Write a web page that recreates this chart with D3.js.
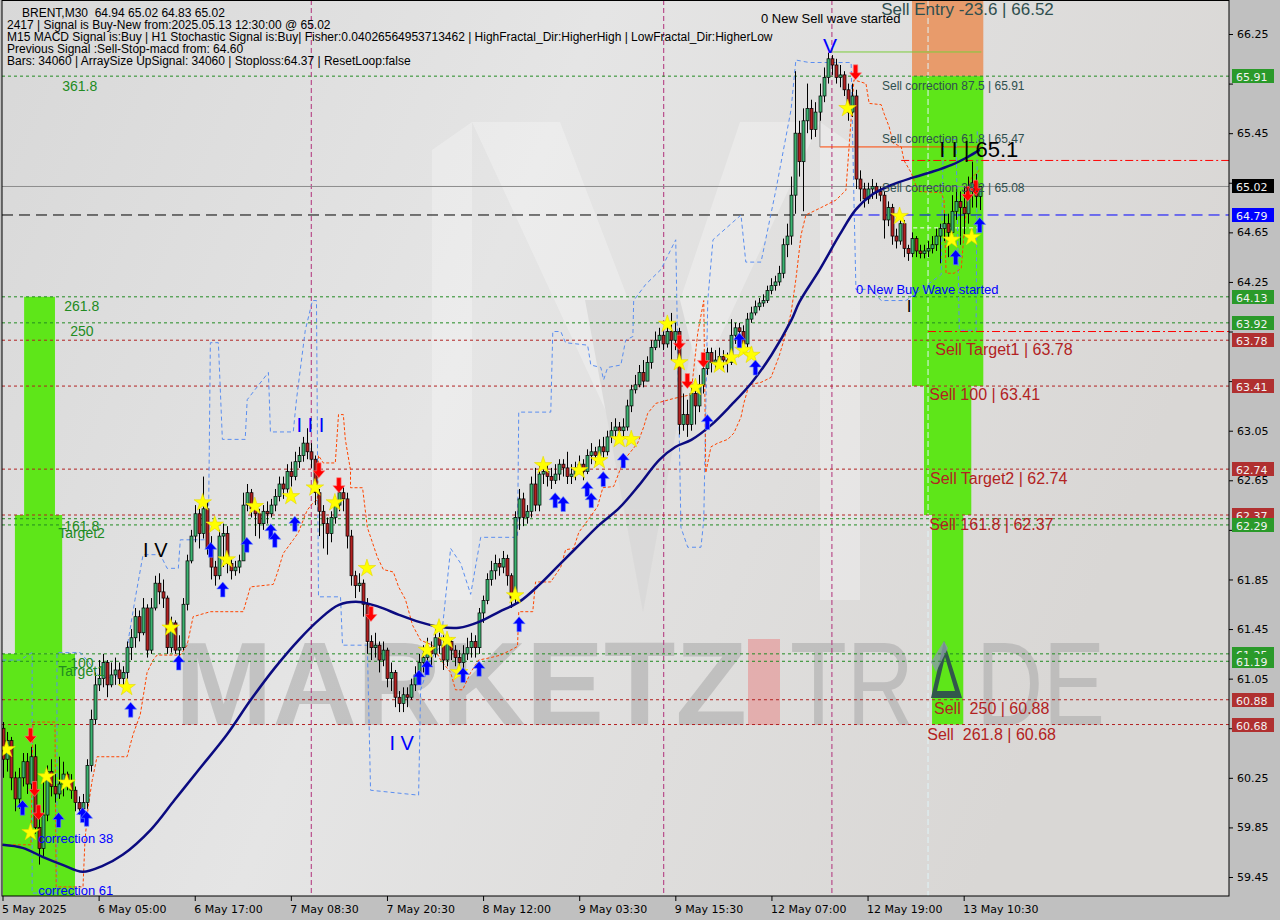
<!DOCTYPE html>
<html><head><meta charset="utf-8">
<script src="https://cdn.jsdelivr.net/npm/d3@7/dist/d3.min.js"></script>
<style>html,body{margin:0;padding:0;background:#c0c0c0;}svg{display:block;}</style>
</head><body><svg id="chart" width="1280" height="920"></svg>
<script>
// ---------------- DATA ----------------
const firstOpen = 60.65;
const closes = [
60.40,60.55,60.25,60.08,60.25,60.38,60.20,60.42,59.85,59.68,
59.95,60.30,60.18,60.12,60.20,60.28,60.22,60.15,60.05,60.00,
60.05,60.35,60.72,61.00,61.05,61.18,61.00,61.08,61.12,61.05,
61.10,61.30,61.38,61.55,61.42,61.62,61.28,61.62,61.82,61.75,
61.70,61.30,61.50,61.28,61.30,61.65,62.00,62.20,62.38,62.22,
62.42,62.10,61.95,61.88,62.20,62.22,61.98,61.92,61.95,62.00,
62.45,62.55,62.42,62.38,62.30,62.40,62.38,62.45,62.52,62.62,
62.58,62.72,62.68,62.80,62.85,62.95,62.88,62.82,62.55,62.40,
62.30,62.22,62.35,62.45,62.55,62.50,62.20,61.88,61.80,61.82,
61.65,61.35,61.30,61.32,61.20,61.28,61.05,61.10,60.90,60.85,
60.92,60.90,61.00,61.08,61.18,61.22,61.30,61.25,61.38,61.32,
61.20,61.35,61.28,61.22,61.18,61.25,61.30,61.35,61.30,61.58,
61.68,61.85,61.92,61.98,61.95,62.02,61.88,61.70,62.35,62.50,
62.35,62.40,62.62,62.45,62.70,62.72,62.68,62.65,62.70,62.78,
62.75,62.68,62.70,62.75,62.78,62.72,62.85,62.88,62.85,62.92,
62.88,63.00,63.05,63.08,63.05,63.08,63.25,63.38,63.42,63.52,
63.45,63.60,63.72,63.78,63.82,63.75,63.85,63.78,63.85,63.10,
63.18,63.10,63.35,63.25,63.42,63.55,63.68,63.60,63.62,63.65,
63.62,63.60,63.82,63.88,63.85,63.75,63.95,64.00,64.05,64.08,
64.10,64.18,64.22,64.25,64.32,64.55,64.62,64.95,65.45,65.22,
65.55,65.65,65.48,65.62,65.75,65.90,66.05,66.00,65.90,65.92,
65.80,65.62,65.75,65.08,65.00,64.92,65.00,65.02,64.98,64.95,
64.75,64.85,64.62,64.58,64.72,64.52,64.48,64.60,64.50,64.48,
64.50,64.52,64.55,64.62,64.68,64.72,64.65,64.82,64.90,64.85,
64.80,64.98,65.05,64.94,65.02];
const highs = [
60.70,60.62,60.58,60.30,60.33,60.45,60.45,60.50,60.52,59.95,
60.25,60.35,60.40,60.28,60.42,60.38,60.30,60.28,60.18,60.10,
60.12,60.40,60.80,61.10,61.20,61.25,61.20,61.18,61.22,61.18,
61.15,61.35,61.45,61.62,61.60,61.70,61.65,61.70,61.88,61.90,
61.85,61.72,61.55,61.52,61.40,61.70,62.05,62.25,62.45,62.42,
62.68,62.48,62.20,62.00,62.25,62.30,62.28,62.02,62.00,62.05,
62.55,62.62,62.58,62.45,62.42,62.45,62.48,62.50,62.58,62.68,
62.68,62.78,62.80,62.88,62.92,63.00,63.07,62.95,62.85,62.58,
62.45,62.35,62.40,62.52,62.60,62.60,62.55,62.25,61.92,61.90,
61.85,61.70,61.40,61.42,61.35,61.35,61.30,61.18,61.12,60.95,
60.98,60.98,61.05,61.15,61.25,61.32,61.38,61.35,61.45,61.42,
61.40,61.40,61.38,61.32,61.28,61.32,61.38,61.42,61.40,61.62,
61.72,61.90,62.00,62.05,62.02,62.08,62.05,61.90,62.40,62.58,
62.55,62.45,62.68,62.75,62.78,62.80,62.78,62.75,62.78,62.82,
62.82,62.88,62.78,62.80,62.85,62.82,62.90,62.95,62.92,62.98,
63.00,63.05,63.12,63.15,63.12,63.15,63.30,63.42,63.50,63.58,
63.62,63.65,63.78,63.85,63.88,63.85,63.92,64.00,63.92,63.88,
63.35,63.30,63.42,63.45,63.50,63.62,63.72,63.72,63.70,63.72,
63.70,63.68,63.95,63.92,63.92,63.90,64.00,64.05,64.10,64.12,
64.15,64.22,64.28,64.30,64.38,64.60,64.72,65.10,65.95,65.55,
65.65,65.85,65.72,65.70,65.85,65.98,66.10,66.08,66.05,66.00,
65.95,65.85,65.85,65.80,65.15,65.05,65.05,65.08,65.05,65.02,
64.98,64.90,64.88,64.68,64.78,64.75,64.55,64.65,64.62,64.55,
64.55,64.58,64.62,64.68,64.72,64.80,64.80,64.95,65.00,64.98,
65.02,65.10,65.22,65.12,65.02];
const lows = [
60.25,60.30,60.15,59.98,60.00,60.18,60.12,60.15,59.80,59.55,
59.62,59.90,60.10,60.05,60.08,60.10,60.15,60.08,59.98,59.95,
59.98,60.00,60.30,60.68,60.95,60.98,60.90,60.98,61.00,61.00,
61.00,61.05,61.20,61.30,61.35,61.40,61.22,61.25,61.60,61.65,
61.62,61.25,61.26,61.25,61.22,61.28,61.60,61.98,62.15,62.10,
62.18,62.05,61.85,61.80,61.85,61.95,61.90,61.85,61.88,61.90,
62.00,62.40,62.35,62.20,62.18,62.25,62.30,62.35,62.40,62.48,
62.50,62.55,62.60,62.65,62.75,62.80,62.82,62.75,62.45,62.20,
62.10,62.05,62.15,62.30,62.40,62.40,62.10,61.80,61.70,61.75,
61.55,61.25,61.20,61.22,61.10,61.15,60.98,60.95,60.82,60.78,
60.78,60.82,60.88,60.95,61.05,61.10,61.15,61.15,61.22,61.25,
61.12,61.15,61.20,61.15,61.08,61.12,61.20,61.22,61.22,61.25,
61.50,61.65,61.80,61.85,61.88,61.90,61.80,61.62,61.65,62.25,
62.28,62.30,62.35,62.40,62.40,62.62,62.60,62.58,62.62,62.65,
62.68,62.62,62.62,62.65,62.70,62.65,62.70,62.78,62.78,62.82,
62.82,62.85,62.95,63.00,62.98,63.00,63.05,63.20,63.35,63.40,
63.40,63.45,63.55,63.70,63.72,63.70,63.72,63.62,63.70,63.02,
63.05,63.00,63.05,63.10,63.20,63.35,63.50,63.52,63.55,63.58,
63.55,63.52,63.58,63.75,63.78,63.70,63.72,63.92,63.98,64.02,
64.05,64.08,64.15,64.18,64.22,64.28,64.45,64.55,64.80,65.10,
64.82,65.45,65.40,65.42,65.55,65.70,65.85,65.92,65.85,65.82,
65.75,65.55,65.58,65.00,64.90,64.85,64.88,64.92,64.92,64.90,
64.60,64.70,64.55,64.52,64.55,64.45,64.42,64.45,64.45,64.44,
64.44,64.45,64.48,64.50,64.40,64.58,64.45,64.60,64.75,64.55,
64.62,64.72,64.85,64.85,64.83];

// moving average (bar index, price)
const maIdx = [0,5,10,15,20,25,30,37,43,49,56,62,68,74,79,84,89,94,99,104,109,114,119,124,129,134,139,144,149,154,159,164,168,172,177,182,187,192,197,199,204,209,213,217,222,227,232,237,241,244];
const maVal = [59.71,59.685,59.613,59.548,59.492,59.54,59.629,59.831,60.073,60.315,60.597,60.879,61.137,61.363,61.524,61.645,61.669,61.629,61.565,61.508,61.468,61.46,61.508,61.589,61.669,61.806,61.968,62.129,62.29,62.427,62.613,62.815,62.919,62.976,63.097,63.258,63.435,63.661,63.944,64.089,64.347,64.629,64.831,64.952,65.032,65.089,65.137,65.194,65.258,65.315];

// trailing stop (orange dashed) — bar index, price
const trailIdx = [0.1,7.1,7.6,13.1,13.4,20.1,20.6,21.4,22.4,23.1,23.6,31.1,32.6,34.4,36.1,37.6,38.6,44.4,46.1,47.6,51.9,60.1,61.9,67.6,68.6,70.1,72.6,73.9,75.1,76.1,77.6,78.6,78.9,80.1,83.1,83.9,85.1,85.6,86.9,86.9,89.9,91.1,93.6,95.1,97.6,98.9,100.6,102.4,104.4,107.4,109.4,111.9,113.1,114.9,116.9,118.9,121.9,124.4,126.9,128.6,128.9,132.4,133.1,136.9,139.4,140.6,142.6,143.9,146.9,148.6,149.9,152.6,155.1,158.6,160.1,161.1,163.1,167.6,171.9,173.6,175.1,175.6,176.9,178.6,181.1,182.6,184.4,185.1,186.4,189.4,191.9,193.9,195.1,196.9,198.1,199.4,200.6,204.4,208.1,210.6,212.6,215.6,216.4,219.4,220.1,221.4,222.4,224.4,225.1,226.9,227.6,228.6,234.4,235.1,235.6,237.6,239.4,240.1,241.4,243.9];
const trailVal = [59.71,59.71,60.70,60.70,59.37,59.37,59.75,60.02,60.23,60.34,60.42,60.42,60.60,60.76,61.10,61.20,61.24,61.24,61.32,61.55,61.59,61.59,61.79,61.81,61.90,62.06,62.17,62.23,62.33,62.41,62.47,62.49,62.85,62.79,62.79,63.18,63.18,62.98,62.73,62.59,62.59,62.27,62.03,61.93,61.91,61.79,61.69,61.48,61.36,61.32,61.20,61.10,60.96,60.96,61.10,61.20,61.22,61.24,61.28,61.31,61.59,61.59,61.83,61.83,61.95,62.09,62.10,62.23,62.36,62.44,62.59,62.60,62.81,62.95,63.08,63.19,63.27,63.31,63.34,63.84,64.10,62.71,62.92,62.95,62.98,63.03,63.16,63.27,63.42,63.44,63.48,63.65,63.78,64.00,64.27,64.63,64.79,64.85,64.91,64.99,65.88,65.85,65.69,65.68,65.61,65.50,65.37,65.34,65.23,65.13,65.07,64.98,64.97,64.91,64.32,64.32,64.36,64.65,65.07,65.15];

// fractal channel (blue dashed) — bar index, price
const chanIdx = [0,4.4,7.4,7.4,13.6,13.6,19.4,21.1,24.4,27.6,31.4,31.4,33.1,35.1,39.4,41.1,43.9,44.4,51.4,51.9,53.9,54.9,60.6,61.1,66.4,66.9,72.6,73.4,75.6,77.4,78.4,78.9,84.4,84.9,91.1,91.9,103.9,104.4,106.9,109.4,111.9,114.4,116.9,119.4,128.6,128.9,136.9,137.4,139.4,140.6,146.1,146.9,149.4,150.1,151.1,154.4,155.6,157.4,157.6,160.6,164.4,168.1,169.4,171.1,174.4,175.1,176.1,177.4,184.4,185.6,189.4,193.1,196.9,198.1,201.4,211.9,212.6,213.1,216.9,219.4,225.6,229.4,234.4,234.9,238.1,238.9,243.1,243.4];
const chanVal = [61.20,61.20,61.26,59.32,59.32,61.26,61.26,61.20,61.06,61.06,61.10,61.36,61.69,62.05,62.05,61.94,61.94,62.17,62.17,63.76,63.76,62.98,62.98,63.30,63.52,63.04,63.04,63.30,63.86,64.10,64.10,61.71,61.71,61.32,61.32,60.15,60.11,60.96,61.20,61.32,62.10,61.98,61.73,62.19,62.19,63.20,63.20,63.85,63.85,63.76,63.74,63.58,63.56,63.46,63.56,63.58,63.78,63.81,64.10,64.23,64.35,64.59,62.27,62.11,62.11,62.33,64.10,64.59,64.79,64.41,64.41,64.99,65.64,66.04,66.02,66.02,64.91,64.19,64.19,64.10,64.10,64.19,64.31,65.40,65.40,63.86,63.86,65.48];

// signal markers (bar index, price)
const starIdx = [1,7,11,16,31,42,50,53,56,63,72,78,83,91,106,109,111,114,128,135,144,149,154,157,166,169,173,179,182,185,187,211,224,237,242];
const starVal = [60.48,59.81,60.26,60.21,60.98,61.46,62.47,62.29,62.01,62.44,62.52,62.59,62.47,61.94,61.28,61.46,61.36,61.10,61.72,62.77,62.73,62.81,62.98,62.98,63.91,63.60,63.40,63.58,63.64,63.70,63.66,65.65,64.78,64.59,64.61];
const buyIdx = [5,14,20,21,32,44,52,55,61,67,68,73,104,106,115,119,129,138,140,146,147,150,155,176,184,188,238,244];
const buyVal = [60.07,59.97,60.01,59.98,60.86,61.24,62.15,61.83,62.19,62.30,62.23,62.36,61.12,61.20,61.14,61.19,61.55,62.55,62.52,62.64,62.55,62.72,62.87,63.18,63.84,63.62,64.51,64.77];
const sellIdx = [7,8,9,79,84,92,169,171,175,213,241,243];
const sellVal = [60.53,60.10,59.91,62.67,62.55,61.51,63.70,63.39,63.56,65.88,64.90,64.95];

// level lines
const greenLevels = [65.91,64.13,63.92,62.34,62.29,61.25,61.19];
const redLevels = [63.78,63.41,62.74,62.37,60.88,60.68];
const boxPrices = [65.91,65.02,64.79,64.13,63.92,63.78,63.41,62.74,62.37,62.29,61.25,61.19,60.88,60.68];
const boxKinds  = ['g','k','b','g','g','r','r','r','r','g','g','g','r','r'];

// target zones (bar index from/to, price from/to, kind)
const zoneI0 = [5.4,3.1,0.1,227.1,227.1,230.1,232.1];
const zoneI1 = [13.1,14.9,18.1,244.9,244.9,241.9,239.9];
const zoneP0 = [64.13,62.37,61.25,66.60,65.91,63.41,62.37];
const zoneP1 = [62.37,61.25,59.20,65.91,63.41,62.37,60.68];
const zoneKind = ['g','g','g','o','g','g','g'];

// axis
const yTicks = [59.45,59.85,60.25,60.65,61.05,61.45,61.85,62.25,62.65,63.05,63.45,63.85,64.25,64.65,65.05,65.45,65.85,66.25];
const timeIdx = [0,24,48,72,96,120,144,168,192,216,240];
const timeLabels = ['5 May 2025','6 May 05:00','6 May 17:00','7 May 08:30','7 May 20:30','8 May 12:00','9 May 03:30','9 May 15:30','12 May 07:00','12 May 19:00','13 May 10:30'];
const vLineIdx = [77.1,165.1,207.1];

const infoLines = [
 'BRENT,M30  64.94 65.02 64.83 65.02',
 '2417 | Signal is Buy-New from:2025.05.13 12:30:00 @ 65.02',
 'M15 MACD Signal is:Buy | H1 Stochastic Signal is:Buy| Fisher:0.04026564953713462 | HighFractal_Dir:HigherHigh | LowFractal_Dir:HigherLow',
 'Previous Signal :Sell-Stop-macd from: 64.60',
 'Bars: 34060 | ArraySize UpSignal: 34060 | Stoploss:64.37 | ResetLoop:false'];

// annotations: text, bar index, price (baseline), size, colour
const notes = [
 ['0 New Sell wave started',189.4,66.339,13,'#000000'],
 ['V',204.9,66.097,21,'#0000ff'],
 ['Sell Entry -23.6 | 66.52',219.4,66.40,17,'#2f4f4f'],
 ['Sell correction 87.5 | 65.91',219.6,65.80,12,'#2f4f4f'],
 ['Sell correction 61.8 | 65.47',219.6,65.37,12,'#2f4f4f'],
 ['Sell correction 38.2 | 65.08',219.6,64.976,12,'#2f4f4f'],
 ['I I | 65.1',233.9,65.258,22,'#000000'],
 ['0 New Buy Wave started',213.1,64.153,13,'#0000ff'],
 ['I',225.8,64.008,17,'#000000'],
 ['Sell Target1 | 63.78',232.9,63.661,16,'#b22222'],
 ['Sell 100 | 63.41',231.4,63.298,16,'#b22222'],
 ['Sell Target2 | 62.74',231.6,62.621,16,'#b22222'],
 ['Sell 161.8 | 62.37',231.4,62.25,16,'#b22222'],
 ['Sell  250 | 60.88',232.6,60.766,16,'#b22222'],
 ['Sell  261.8 | 60.68',230.9,60.556,16,'#b22222'],
 ['361.8',14.9,65.79,14,'#228b22'],
 ['261.8',15.4,64.016,14,'#228b22'],
 ['250',16.9,63.815,14,'#228b22'],
 ['161.8',15.4,62.242,14,'#228b22'],
 ['Target2',13.9,62.186,14,'#228b22'],
 ['100',16.9,61.137,14,'#228b22'],
 ['Target1',13.9,61.073,14,'#228b22'],
 ['correction 38',8.9,59.726,13,'#0000ff'],
 ['correction 61',8.9,59.306,13,'#0000ff'],
 ['I V',35.1,62.032,20,'#000000'],
 ['I I I',73.4,63.04,20,'#0000ff'],
 ['I V',96.6,60.476,20,'#0000ff']
];

// ---------------- DRAW ----------------
const plotL = 2, plotR = 1229, plotT = 0, plotB = 896;
const svg = d3.select('#chart');
const x = d3.scaleLinear().domain([0, 244]).range([2.5, 979.7]);
const y = d3.scaleLinear().domain([59.45, 66.25]).range([877, 34]);

svg.append('rect').attr('width',1280).attr('height',920).attr('fill','#c0c0c0');
const defs = svg.append('defs');
const gr = defs.append('linearGradient').attr('id','bg').attr('x1','0').attr('x2','1').attr('y1','0').attr('y2','0.3');
gr.append('stop').attr('offset','0%').attr('stop-color','#d8d8d8');
gr.append('stop').attr('offset','45%').attr('stop-color','#e5e5e5');
gr.append('stop').attr('offset','100%').attr('stop-color','#d9d7d5');
defs.append('clipPath').attr('id','clip').append('rect')
  .attr('x',plotL).attr('y',plotT).attr('width',plotR-plotL).attr('height',plotB-plotT);

svg.append('rect').attr('x',plotL).attr('y',plotT).attr('width',plotR-plotL).attr('height',plotB-plotT).attr('fill','url(#bg)');

const g = svg.append('g').attr('clip-path','url(#clip)');

// faint logo shapes
const logo = g.append('g').attr('opacity',0.28);
logo.append('path').attr('d','M432,600 L432,150 L472,122 L472,600 Z').attr('fill','#ffffff');
logo.append('path').attr('d','M820,122 L860,150 L860,600 L820,600 Z').attr('fill','#ffffff');
logo.append('path').attr('d','M472,122 L560,122 L640,330 L610,420 Z').attr('fill','#ffffff');
logo.append('path').attr('d','M585,300 L700,300 L643,612 Z').attr('fill','#c8c8c8');
logo.append('path').attr('d','M820,122 L740,122 L680,300 L700,380 Z').attr('fill','#ffffff');

// watermark text
const wm = g.append('g');
wm.append('text').attr('x',175).attr('y',725).text('MARKETZ')
  .attr('font-family','Liberation Sans, Arial, sans-serif').attr('font-weight','bold').attr('font-size',118)
  .attr('textLength',572).attr('lengthAdjust','spacingAndGlyphs').attr('fill','#a8a8a8').attr('opacity',0.55);
wm.append('rect').attr('x',748).attr('y',639).attr('width',32).attr('height',86).attr('fill','#e59a9a').attr('opacity',0.7);
const tr = wm.append('text').attr('x',790).attr('y',725)
  .attr('font-family','Liberation Sans, Arial, sans-serif').attr('font-size',118)
  .attr('textLength',315).attr('lengthAdjust','spacingAndGlyphs').attr('fill','#a8a8a8').attr('opacity',0.55);
tr.append('tspan').text('TR');
tr.append('tspan').text('A').attr('fill-opacity',0);
tr.append('tspan').text('DE');

// zones
const zoneFill = {g:'#5ee619', o:'#e89b6b'};
zoneI0.forEach((d,k)=>{
  g.append('rect').attr('x',x(d)).attr('width',x(zoneI1[k])-x(d))
   .attr('y',y(zoneP0[k])).attr('height',y(zoneP1[k])-y(zoneP0[k]))
   .attr('fill',zoneFill[zoneKind[k]]);
});

// dark "A" of the watermark logo
g.append('path').attr('d','M931,698 L944,641 L962,698 Z M937,691 L945,657 L955,691 Z')
 .attr('fill','#2f4f4f').attr('fill-rule','evenodd').attr('opacity',0.95);
g.append('path').attr('d','M931,662 L944,641 L948,648 L936,672 Z').attr('fill','#8a9aa8').attr('opacity',0.8);

// vertical lines
vLineIdx.forEach(v=>{
  g.append('line').attr('x1',x(v)).attr('x2',x(v)).attr('y1',plotT).attr('y2',plotB)
   .attr('stroke','#b0307a').attr('stroke-width',1).attr('stroke-dasharray','5,3');
});
g.append('line').attr('x1',x(231.1)).attr('x2',x(231.1)).attr('y1',plotT).attr('y2',plotB)
 .attr('stroke','#dff4f8').attr('stroke-width',1).attr('stroke-dasharray','6,3');

// level lines
greenLevels.forEach(p=>g.append('line').attr('x1',plotL).attr('x2',plotR).attr('y1',y(p)).attr('y2',y(p))
  .attr('stroke','#228b22').attr('stroke-dasharray','3,3'));
redLevels.forEach(p=>g.append('line').attr('x1',plotL).attr('x2',plotR).attr('y1',y(p)).attr('y2',y(p))
  .attr('stroke','#b22222').attr('stroke-dasharray','3,3'));
g.append('line').attr('x1',plotL).attr('x2',plotR).attr('y1',y(65.02)).attr('y2',y(65.02)).attr('stroke','#8c8c8c');
g.append('line').attr('x1',plotL).attr('x2',x(212)).attr('y1',y(64.79)).attr('y2',y(64.79))
 .attr('stroke','#000000').attr('stroke-dasharray','11,6');
g.append('line').attr('x1',x(212)).attr('x2',plotR).attr('y1',y(64.79)).attr('y2',y(64.79))
 .attr('stroke','#0000ff').attr('stroke-dasharray','11,6');
g.append('line').attr('x1',x(224.4)).attr('x2',plotR).attr('y1',y(65.23)).attr('y2',y(65.23))
 .attr('stroke','#ff0000').attr('stroke-dasharray','8,3,2,3');
g.append('line').attr('x1',x(231.1)).attr('x2',plotR).attr('y1',y(63.85)).attr('y2',y(63.85))
 .attr('stroke','#ff0000').attr('stroke-dasharray','8,3,2,3');
g.append('line').attr('x1',x(207.4)).attr('x2',x(244.4)).attr('y1',y(66.105)).attr('y2',y(66.105)).attr('stroke','#7ccd3c');
g.append('line').attr('x1',x(204.1)).attr('x2',x(244.4)).attr('y1',y(65.339)).attr('y2',y(65.339)).attr('stroke','#ff4500');
g.append('line').attr('x1',x(204.1)).attr('x2',x(204.1)).attr('y1',y(65.70)).attr('y2',y(65.339)).attr('stroke','#909090');
g.append('line').attr('x1',x(227.4)).attr('x2',x(243.9)).attr('y1',y(64.686)).attr('y2',y(64.686))
 .attr('stroke','#ffffff').attr('stroke-dasharray','4,3');

// channel + trail
const lineGen = d3.line().x(d=>x(d[0])).y(d=>y(d[1]));
g.append('path').attr('d',lineGen(chanIdx.map((d,k)=>[d,chanVal[k]])))
 .attr('fill','none').attr('stroke','#5a8ef0').attr('stroke-width',1).attr('stroke-dasharray','4,3');
g.append('path').attr('d',lineGen(trailIdx.map((d,k)=>[d,trailVal[k]])))
 .attr('fill','none').attr('stroke','#ff4500').attr('stroke-width',1).attr('stroke-dasharray','3,2');

// candles
const cg = g.append('g');
closes.forEach((c,i)=>{
  const o = i===0 ? firstOpen : closes[i-1];
  const h = Math.max(highs[i],o,c), l = Math.min(lows[i],o,c);
  const cx = Math.round(x(i))+0.5;
  cg.append('line').attr('x1',cx).attr('x2',cx).attr('y1',y(h)).attr('y2',y(l)).attr('stroke','#000').attr('stroke-width',1);
  const top = y(Math.max(o,c)), bot = y(Math.min(o,c));
  cg.append('rect').attr('x',cx-1.5).attr('width',3).attr('y',top).attr('height',Math.max(0.8,bot-top))
    .attr('fill', c>=o ? '#3cb371' : '#b22222').attr('stroke','#000').attr('stroke-width',0.7);
});

// moving average
g.append('path').attr('d',d3.line().curve(d3.curveCatmullRom).x(d=>x(d[0])).y(d=>y(d[1]))(maIdx.map((d,k)=>[d,maVal[k]])))
 .attr('fill','none').attr('stroke','#0b0b80').attr('stroke-width',2.5);

// markers
const star = d3.symbol().type(d3.symbolStar).size(95);
starIdx.forEach((d,k)=>g.append('path').attr('d',star())
  .attr('transform',`translate(${x(d)},${y(starVal[k])})`).attr('fill','#ffff00').attr('stroke','#e6d800').attr('stroke-width',0.6));
const upPath = 'M0,0 L6,7 L2.2,7 L2.2,15 L-2.2,15 L-2.2,7 L-6,7 Z';
buyIdx.forEach((d,k)=>g.append('path').attr('d',upPath)
  .attr('transform',`translate(${x(d)},${y(buyVal[k])})`).attr('fill','#0000ff').attr('stroke','#6a8cff').attr('stroke-width',0.6));
sellIdx.forEach((d,k)=>g.append('path').attr('d',upPath)
  .attr('transform',`translate(${x(d)},${y(sellVal[k])}) scale(1,-1)`).attr('fill','#ff0000').attr('stroke','#ff8080').attr('stroke-width',0.6));

// annotations
notes.forEach(n=>{
  g.append('text').attr('x',x(n[1])).attr('y',y(n[2])).text(n[0])
   .attr('font-family','Liberation Sans, Arial, sans-serif').attr('font-size',n[3]).attr('fill',n[4])
   .style('white-space','pre').attr('xml:space','preserve');
});

// info text
infoLines.forEach((t,k)=>{
  svg.append('text').attr('x', k===0 ? 22 : 7).attr('y', 17 + k*12).text(t)
   .attr('font-family','Liberation Sans, Arial, sans-serif').attr('font-size',12).attr('fill','#000')
   .style('white-space','pre').attr('xml:space','preserve');
});

// frame
svg.append('rect').attr('x',plotL).attr('y',plotT+0.5).attr('width',plotR-plotL).attr('height',plotB-plotT-0.5)
 .attr('fill','none').attr('stroke','#000').attr('stroke-width',1);

// right axis (labels hidden where a price box covers them, as in the terminal)
const covered = v => boxPrices.some(p => Math.abs(y(p) - y(v)) < 10);
const ya = svg.append('g').attr('transform',`translate(${plotR},0)`)
  .call(d3.axisRight(y).tickValues(yTicks).tickSize(4).tickFormat(v => covered(v) ? '' : d3.format('.2f')(v)));
ya.select('.domain').remove();
ya.selectAll('text').attr('font-family','DejaVu Sans, sans-serif').attr('font-size',11).attr('fill','#000').attr('x',8);
ya.selectAll('line').attr('stroke','#000');

// price boxes
const boxFill = {g:'#2a9a2a', k:'#000000', b:'#0000ff', r:'#b03030'};
boxPrices.forEach((p,k)=>{
  const yy = Math.round(y(p));
  svg.append('rect').attr('x',1232).attr('y',yy-7).attr('width',42).attr('height',14).attr('fill',boxFill[boxKinds[k]]);
  svg.append('text').attr('x',1236).attr('y',yy+4.5).text(p.toFixed(2))
   .attr('font-family','DejaVu Sans, sans-serif').attr('font-size',11).attr('fill','#f2f2f2');
});

// bottom axis
const xa = svg.append('g').attr('transform',`translate(0,${plotB})`)
  .call(d3.axisBottom(x).tickValues(timeIdx).tickSize(5).tickFormat((d,k)=>timeLabels[k]));
xa.select('.domain').remove();
xa.selectAll('line').attr('stroke','#000');
xa.selectAll('text').attr('font-family','DejaVu Sans, sans-serif').attr('font-size',11).attr('fill','#000')
  .attr('text-anchor','start').attr('dx',-1).attr('y',9);
</script></body></html>
